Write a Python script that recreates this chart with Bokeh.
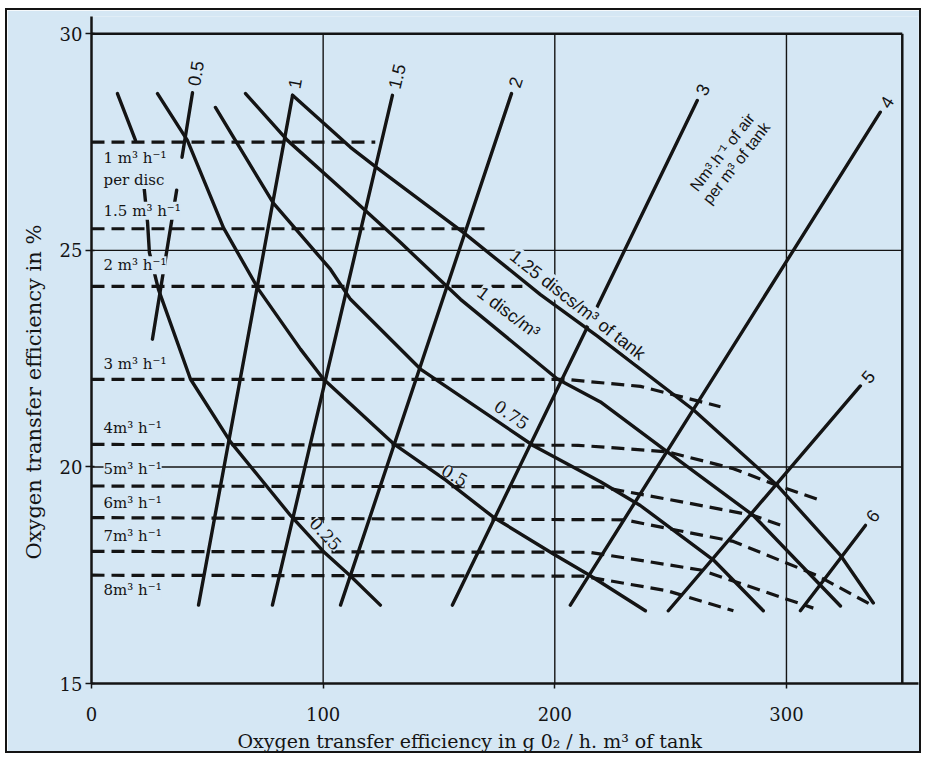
import math
import numpy as np
from bokeh.plotting import figure
from bokeh.models import Range1d, FixedTicker, Title
from bokeh.core.properties import value
from bokeh.embed import file_html
from bokeh.resources import INLINE

BG = "#d5e7f4"
INK = "#141414"
SERIF = "DejaVu Serif"
SANS = "Liberation Sans"

# ---------------- data ----------------
x_ticks = [0, 100, 200, 300]
y_ticks = [15, 20, 25, 30]
x_grid = [100, 200, 300]
y_grid = [20, 25]
x_end = 350
y_low, y_top = 15, 30

# air-flow lines, Nm3/h of air per m3 of tank (bottom end -> top end)
air_labels = ["0.5", "1", "1.5", "2", "3", "4", "5", "6"]
air_x_low = [26.3, 46.2, 78.1, 107.5, 155.8, 206.7, 249.0, 306.0]
air_y_low = [22.95, 16.81, 16.81, 16.81, 16.81, 16.81, 16.68, 16.68]
air_x_high = [43.6, 86.8, 129.9, 181.3, 261.5, 340.5, 331.9, 334.1]
air_y_high = [28.64, 28.58, 28.58, 28.62, 28.46, 28.19, 21.87, 18.65]

# disc-density curves (discs per m3 of tank)
disc_labels = ["0.25", "0.5", "0.75", "1 disc/m³", "1.25 discs/m³ of tank"]
d025_x = [11.2, 19.0, 22.4, 24.2, 25.0, 28.9, 42.7, 60.0, 85.9, 100.1, 111.8, 124.7]
d025_y = [28.62, 27.54, 26.62, 25.64, 24.95, 24.10, 22.03, 20.58, 18.88, 18.05, 17.48, 16.81]
d050_x = [28.5, 41.4, 57.0, 72.1, 90.2, 100.1, 130.3, 152.8, 173.5, 199.4, 215.0, 239.1]
d050_y = [28.62, 27.54, 25.52, 24.10, 22.72, 22.03, 20.54, 19.70, 18.84, 17.99, 17.50, 16.68]
d075_x = [53.5, 78.5, 103.2, 111.8, 142.0, 190.8, 219.7, 236.9, 268.5, 290.0]
d075_y = [28.30, 26.09, 24.56, 23.87, 22.26, 20.49, 19.66, 19.11, 17.85, 16.68]
d100_x = [66.5, 84.6, 111.8, 133.4, 159.3, 201.1, 219.7, 248.6, 285.7, 323.3]
d100_y = [28.62, 27.54, 26.23, 25.18, 23.87, 22.03, 21.50, 20.35, 18.88, 16.79]
d125_x = [86.8, 111.8, 123.4, 160.6, 193.8, 218.4, 259.8, 296.1, 323.3, 337.5]
d125_y = [28.58, 27.38, 26.90, 25.41, 23.98, 23.02, 21.32, 19.57, 17.96, 16.86]

# air flow per disc (dashed)
flow_labels = ["1 m³ h⁻¹", "1.5 m³ h⁻¹", "2 m³ h⁻¹", "3 m³ h⁻¹", "4m³ h⁻¹",
               "5m³ h⁻¹", "6m³ h⁻¹", "7m³ h⁻¹", "8m³ h⁻¹"]
f1_x = [0, 122.5];                          f1_y = [27.5, 27.5]
f15_x = [0, 172.0];                         f15_y = [25.5, 25.5]
f2_x = [0, 186.0];                          f2_y = [24.17, 24.17]
f3_x = [0, 205, 237, 271.5];                f3_y = [22.02, 22.02, 21.86, 21.39]
f4_x = [0, 210, 248.6, 277.1, 296.1, 314.6]; f4_y = [20.52, 20.50, 20.35, 19.96, 19.57, 19.23]
f5_x = [0, 219.7, 254.2, 285.7, 298.7];     f5_y = [19.56, 19.54, 19.20, 18.88, 18.63]
f6_x = [0, 230, 277.1, 313, 337.5];         f6_y = [18.83, 18.78, 18.28, 17.50, 16.79]
f7_x = [0, 215, 263, 311.6];                f7_y = [18.05, 18.03, 17.62, 16.74]
f8_x = [0, 212, 248.6, 277.1];              f8_y = [17.50, 17.48, 17.14, 16.68]

x_title = "Oxygen transfer efficiency in  g 0₂ / h. m³ of tank"
y_title = "Oxygen transfer efficiency  in %"
nm_line1 = "Nm³.h⁻¹ of air"
nm_line2 = "per m³ of tank"

# ---------------- figure ----------------
p = figure(width=916, height=745, output_backend="svg", toolbar_location=None,
           x_range=Range1d(0, 357), y_range=Range1d(15, 30.4),
           min_border_left=84, min_border_right=5, min_border_top=6, min_border_bottom=69)
p.styles = {"border": "2px solid #141414", "margin-left": "5px", "margin-top": "8px"}
p.background_fill_color = BG
p.border_fill_color = BG
p.outline_line_color = None
p.xgrid.visible = False
p.ygrid.visible = False

SX = 827 / 357.0
SY = 670 / 15.4

for ax in (p.xaxis[0], p.yaxis[0]):
    ax.axis_line_width = 2.5
    ax.axis_line_color = INK
    ax.major_tick_line_color = INK
    ax.major_tick_line_width = 1.5
    ax.minor_tick_line_color = None
    ax.major_label_text_font = SERIF
    ax.major_label_text_font_size = "18px"
    ax.major_label_text_color = INK

p.xaxis.ticker = FixedTicker(ticks=x_ticks)
p.yaxis.ticker = FixedTicker(ticks=y_ticks)
p.xaxis.major_tick_in = 0
p.xaxis.major_tick_out = 5
p.yaxis.major_tick_in = 3
p.yaxis.major_tick_out = 6
p.xaxis.major_label_standoff = 18
p.yaxis.major_label_standoff = 3

p.add_layout(Title(text=y_title, align="left", offset=124, text_font=SERIF,
                   text_font_size="21px", text_font_style="normal", text_color=INK,
                   standoff=22), "left")
p.add_layout(Title(text=x_title, align="left", offset=146, text_font=SERIF,
                   text_font_size="19px", text_font_style="normal", text_color=INK,
                   standoff=8), "below")

# grid lines and frame
p.segment(x0=x_grid, y0=[y_low] * len(x_grid), x1=x_grid, y1=[y_top] * len(x_grid),
          line_color=INK, line_width=1.4)
p.segment(x0=[0] * len(y_grid), y0=y_grid, x1=[x_end] * len(y_grid), y1=y_grid,
          line_color=INK, line_width=1.4)
p.segment(x0=[0, x_end], y0=[y_top, y_low], x1=[x_end, x_end], y1=[y_top, y_top],
          line_color=INK, line_width=2.5)


def split_y(xs, ys, hidden):
    xs = np.asarray(xs, float)
    ys = np.asarray(ys, float)
    o = np.argsort(ys)
    ya, xa = ys[o], xs[o]
    lo, hi = ya[0], ya[-1]
    vis, cur = [], lo
    for a, b in sorted(hidden):
        if a > cur:
            vis.append((cur, min(a, hi)))
        cur = max(cur, b)
    if cur < hi:
        vis.append((cur, hi))
    ox, oy = [], []
    for a, b in vis:
        yy = np.concatenate([[a], ya[(ya > a) & (ya < b)], [b]])
        ox.append(list(np.interp(yy, ya, xa)))
        oy.append(list(yy))
    return ox, oy


# dashed flow-per-disc lines
fx = [f1_x, f15_x, f2_x, f3_x, f4_x, f5_x, f6_x, f7_x, f8_x]
fy = [f1_y, f15_y, f2_y, f3_y, f4_y, f5_y, f6_y, f7_y, f8_y]
p.multi_line(xs=fx, ys=fy, line_color=INK, line_width=3.2, line_dash="13 7")

# air-flow lines
hidden_air = {0: [(26.39, 27.15)]}
axs, ays = [], []
for i in range(len(air_labels)):
    sx, sy = split_y([air_x_low[i], air_x_high[i]], [air_y_low[i], air_y_high[i]],
                     hidden_air.get(i, []))
    axs += sx
    ays += sy
p.multi_line(xs=axs, ys=ays, line_color=INK, line_width=3.4, line_cap="round")

# disc curves
cx = [d025_x, d050_x, d075_x, d100_x, d125_x]
cy = [d025_y, d050_y, d075_y, d100_y, d125_y]
hidden_disc = {0: [(26.62, 27.54)]}
dxs, dys = [], []
for i in range(len(cx)):
    sx, sy = split_y(cx[i], cy[i], hidden_disc.get(i, []))
    dxs += sx
    dys += sy
p.multi_line(xs=dxs, ys=dys, line_color=INK, line_width=3.4, line_cap="round")

# ---------------- labels ----------------
bg = dict(background_fill_color=BG, background_fill_alpha=1.0)

# flow-per-disc labels at left
levels = [f[0] for f in fy]
offs = [16, -18, -21, -15, -16, -17, -15, -15, 15]
p.text(x=[5.2] * len(flow_labels), y=levels, text=flow_labels, y_offset=offs,
       text_font=value(SERIF), text_font_size="15px", text_color=INK,
       text_align="left", text_baseline="middle", **bg)
p.text(x=[5.2], y=[levels[0]], text=["per disc"], y_offset=[38],
       text_font=value(SERIF), text_font_size="15px", text_color=INK,
       text_align="left", text_baseline="middle", **bg)

# air-flow labels at the upper ends
ang, xo, yo = [], [], []
for i in range(len(air_labels)):
    t = math.atan2((air_y_high[i] - air_y_low[i]) * SY, (air_x_high[i] - air_x_low[i]) * SX)
    ang.append(t)
    xo.append(7 * math.cos(t))
    yo.append(-7 * math.sin(t))
p.text(x=air_x_high, y=air_y_high, text=air_labels, angle=ang, x_offset=xo, y_offset=yo,
       text_font=value(SANS), text_font_size="18px", text_color=INK,
       text_align="left", text_baseline="middle")

# Nm3 caption
nm_ang = math.radians(52)
p.text(x=[272.3, 272.3], y=[27.27, 27.27], text=[nm_line1, nm_line2], angle=nm_ang,
       x_offset=[0, 14], y_offset=[0, 11],
       text_font=value(SANS), text_font_size="16px", text_color=INK,
       text_align="center", text_baseline="middle")

# disc-curve labels
lab_x = [101.0, 156.7, 181.3, 180.0, 209.8]
lab_y = [18.45, 19.80, 21.20, 23.57, 23.74]
lab_a = [math.radians(a) for a in (-47, -30, -34, -37, -38)]
p.text(x=lab_x[:3], y=lab_y[:3], text=disc_labels[:3], angle=lab_a[:3],
       text_font=value(SERIF), text_font_size="17px", text_color=INK,
       text_align="center", text_baseline="middle", **bg)
p.text(x=lab_x[3:], y=lab_y[3:], text=disc_labels[3:], angle=lab_a[3:],
       text_font=value(SANS), text_font_size="18px", text_color=INK,
       text_align="center", text_baseline="middle", **bg)

open("out.html", "w").write(file_html(p, INLINE))
